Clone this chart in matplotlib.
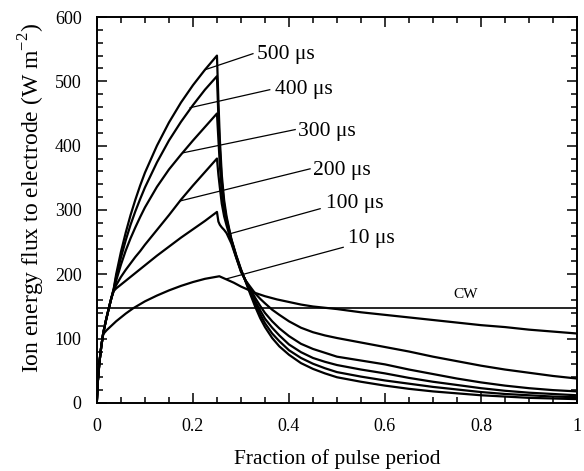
from matplotlib import pyplot as plt
from matplotlib.ticker import MultipleLocator

plt.rcParams['font.family'] = ['Liberation Serif', 'DejaVu Serif']
plt.rcParams['mathtext.fontset'] = 'custom'
plt.rcParams['mathtext.rm'] = 'Liberation Serif'

# pulse on: fraction of period 0 .. 0.25
x_on = [0, 0.002, 0.005, 0.009, 0.013, 0.018, 0.024, 0.03, 0.035, 0.04, 0.05, 0.06, 0.07, 0.08, 0.09, 0.1,
        0.125, 0.15, 0.175, 0.2, 0.225, 0.25]
on_500 = [5, 35, 62, 88, 108, 126, 145, 163, 178, 200, 235, 265, 292, 316, 338, 358, 400, 436, 467, 494, 518, 540]
on_400 = [5, 35, 62, 88, 108, 126, 145, 163, 177, 196, 226, 253, 277, 298, 317, 335, 374, 408, 437, 463, 487, 508]
on_300 = [5, 35, 62, 88, 108, 126, 145, 163, 176, 190, 215, 237, 256, 273, 289, 304, 336, 363, 386, 408, 429, 450]
on_200 = [5, 35, 62, 88, 108, 126, 145, 163, 175, 183, 196, 207, 217, 227, 236, 246, 269, 292, 316, 338, 359, 380]
on_100 = [5, 35, 62, 88, 108, 126, 145, 163, 174, 178, 184, 190, 196, 202, 208, 214, 229, 243, 257, 270, 283, 297]

# pulse off: 0.25 .. 1
x_off = [0.25, 0.253, 0.256, 0.26, 0.265, 0.27, 0.28, 0.29, 0.30, 0.31, 0.32, 0.33, 0.34, 0.35, 0.365, 0.38,
         0.40, 0.425, 0.45, 0.475, 0.5, 0.55, 0.6, 0.65, 0.7, 0.75, 0.8, 0.85, 0.9, 0.95, 1.0]
off_500 = [540, 470, 410, 355, 315, 290, 255, 230, 208, 188, 168, 149, 132, 118, 101, 88,
           75, 62, 53, 46, 40, 33, 27, 22, 18, 15, 12, 10, 8, 7, 6]
off_400 = [508, 445, 395, 345, 308, 286, 254, 229, 207, 189, 171, 153, 138, 124, 108, 96,
           82, 70, 61, 54, 48, 41, 35, 30, 25, 21, 17, 14, 12, 10, 9]
off_300 = [450, 410, 370, 330, 300, 282, 253, 228, 206, 189, 174, 158, 144, 131, 117, 105,
           91, 79, 70, 64, 59, 52, 46, 39, 33, 28, 23, 19, 16, 14, 12]
off_200 = [380, 355, 335, 310, 290, 276, 251, 227, 205, 190, 177, 163, 151, 140, 127, 116,
           104, 92, 84, 78, 72, 66, 60, 52, 45, 38, 32, 27, 23, 20, 18]
off_100 = [297, 282, 277, 273, 269, 264, 248, 226, 204, 190, 180, 170, 162, 155, 145, 137,
           127, 117, 110, 105, 101, 94, 87, 80, 72, 65, 58, 52, 47, 42, 38]

# 10 us pulse
x_10 = [0, 0.002, 0.005, 0.009, 0.013, 0.02, 0.03, 0.04, 0.05, 0.06, 0.075, 0.1, 0.125, 0.15, 0.175, 0.2,
        0.225, 0.255, 0.27, 0.285, 0.30, 0.315, 0.33, 0.35, 0.375, 0.40, 0.425, 0.45, 0.475, 0.5,
        0.55, 0.6, 0.65, 0.7, 0.75, 0.8, 0.85, 0.9, 0.95, 1.0]
y_10 = [5, 35, 62, 88, 107, 113, 120, 127, 133, 139, 147, 158, 167, 175, 182, 188,
        193, 197, 192, 187, 181, 176, 171, 166, 161, 157, 153, 150, 148, 146,
        141, 137, 133, 129, 125, 121, 118, 114, 111, 108]

cw = 148

curves = [(on_500, off_500), (on_400, off_400), (on_300, off_300), (on_200, off_200), (on_100, off_100)]

labels = ['500 \u03bcs', '400 \u03bcs', '300 \u03bcs', '200 \u03bcs', '100 \u03bcs', '10 \u03bcs']
# pointer lines from the curve to the label
pointers = [((0.225, 518), (0.325, 543)),
            ((0.194, 459), (0.360, 487)),
            ((0.180, 389), (0.413, 425)),
            ((0.173, 314), (0.444, 364)),
            ((0.272, 262), (0.465, 302)),
            ((0.270, 193), (0.513, 242))]
text_pos = [(0.333, 541), (0.371, 487), (0.418, 422), (0.450, 362), (0.478, 310), (0.523, 256)]

fig = plt.figure(figsize=(5.84, 4.71), dpi=100)
ax = fig.add_axes([0.166, 0.1444, 0.822, 0.8195])

for on, off in curves:
    ax.plot(x_on + x_off[1:], on + off[1:], color='black', lw=1.6)
ax.plot(x_10, y_10, color='black', lw=1.6)
ax.plot([0, 1], [cw, cw], color='black', lw=1.2)
ax.text(0.767, 168, 'CW', fontsize=11, ha='center', va='center')

for (p0, p1), (tx, ty), lab in zip(pointers, text_pos, labels):
    ax.plot([p0[0], p1[0]], [p0[1], p1[1]], color='black', lw=0.9)
    ax.text(tx, ty, lab, fontsize=15.5, ha='left', va='center')

ax.set_xlim(0, 1)
ax.set_ylim(0, 600)
ax.set_xticks([0, 0.2, 0.4, 0.6, 0.8, 1])
ax.set_xticklabels(['0', '0.2', '0.4', '0.6', '0.8', '1'])
ax.xaxis.set_minor_locator(MultipleLocator(0.05))
ax.yaxis.set_major_locator(MultipleLocator(100))
ax.yaxis.set_minor_locator(MultipleLocator(20))
ax.tick_params(which='both', direction='in', top=True, right=True, width=1.1, labelsize=13)
ax.tick_params(which='major', length=7, pad=11)
ax.tick_params(which='minor', length=4)
for s in ax.spines.values():
    s.set_linewidth(1.4)

ax.set_xlabel('Fraction of pulse period', fontsize=15.5, labelpad=10)
ax.set_ylabel(r'Ion energy flux to electrode (W m$^{\mathregular{-2}}$)', fontsize=17)
ax.yaxis.set_label_coords(-0.105, 0.53)

fig.savefig('out.png', dpi=100)
